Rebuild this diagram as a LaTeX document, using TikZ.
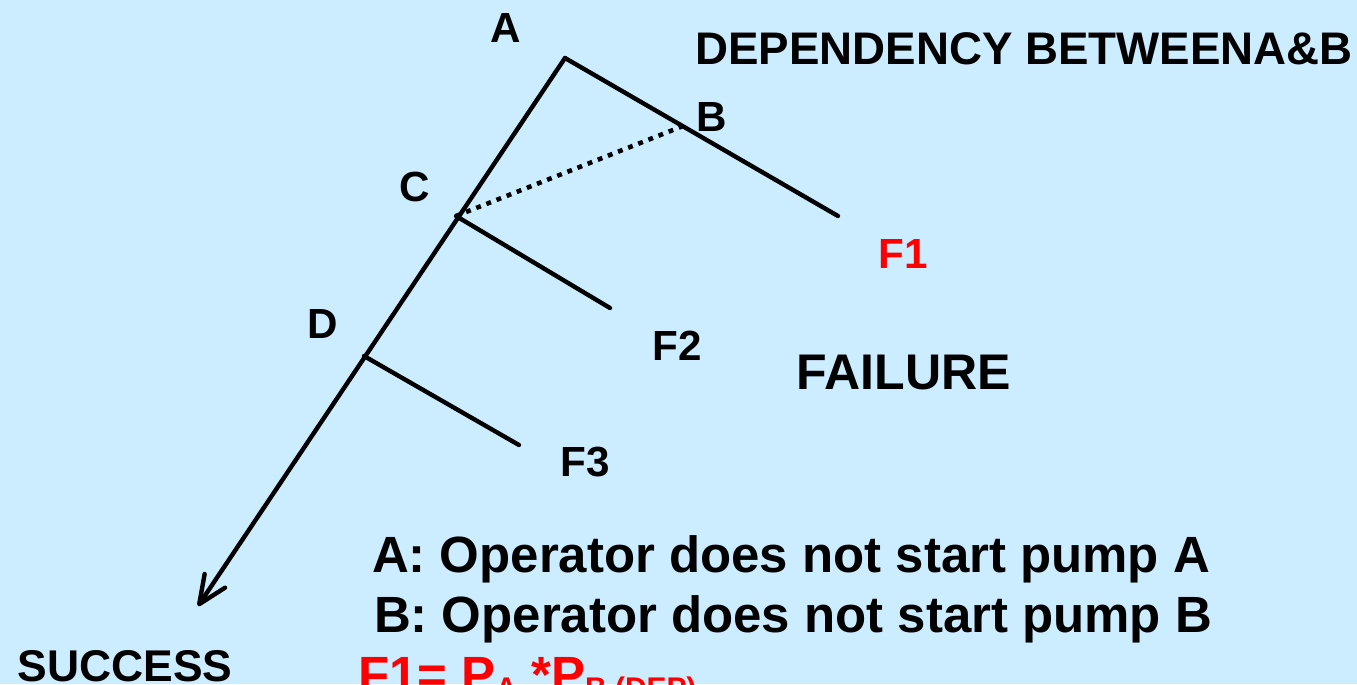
\documentclass[tikz,border=0pt]{standalone}
\usepackage{fontspec}
\setmainfont{Liberation Sans}
\usepackage{tikz}
\usetikzlibrary{arrows.meta}
\definecolor{bgblue}{RGB}{204,236,255}
\newcommand{\lowsub}[1]{\raisebox{-0.12em}{\fontsize{17}{18}\selectfont #1}}

\begin{document}
\begin{tikzpicture}[
  x=0.02cm, y=-0.02cm,
  lbl/.style={font=\fontsize{24}{28}\selectfont\bfseries, inner sep=0pt, anchor=base},
  big/.style={font=\fontsize{29}{32}\selectfont\bfseries, inner sep=0pt, anchor=base},
  branch/.style={line width=2.5pt, line cap=round},
  dep/.style={line width=2.6pt, dash pattern=on 2.8pt off 3.4pt},
]
% Background
\fill[bgblue] (0,0) rectangle (1357,684);
\useasboundingbox (0,0) rectangle (1357,684);
\clip (0,0) rectangle (1357,684);

% Tree points
\coordinate (a) at (565,58);
\coordinate (b) at (683,126);
\coordinate (c) at (456,216);
\coordinate (d) at (364,356);
\coordinate (f1) at (838,216);
\coordinate (f2) at (610,308);
\coordinate (f3) at (519,445);
\coordinate (succ) at (198,606);

% Branches
\draw[branch, -{Straight Barb[length=16pt, width=14pt, line cap=round, line join=round]}] (a) -- (succ);
\draw[branch] (a) -- (f1);
\draw[branch] (c) -- (f2);
\draw[branch] (d) -- (f3);
\draw[dep] (c) -- (b);

% Event labels
\node[lbl] (la) at (506,42) {A};
\node[lbl] (lb) at (712,131) {B};
\node[lbl] (lc) at (415,201) {C};
\node[lbl] (ld) at (323,338) {D};

% End states
\node[lbl, red] (lf1) at (903,268) {F1};
\node[lbl] (lf2) at (677,360) {F2};
\node[lbl] (lf3) at (585,476) {F3};
\node[big, font=\fontsize{28.5}{32}\selectfont\bfseries] (fail) at (904,389) {FAILURE};
\node[lbl, font=\fontsize{26}{28}\selectfont\bfseries] (depab) at (1024,64) {DEPENDENCY BETWEENA\&B};
\node[lbl, font=\fontsize{25.3}{28}\selectfont\bfseries] (success) at (125,681) {SUCCESS};

% Legend
\node[big] (evA) at (791,572) {A: Operator does not start pump A};
\node[big] (evB) at (793,632) {B: Operator does not start pump B};
\node[big, red, anchor=base west] (form) at (358,692) {F1= P\lowsub{A} *P\lowsub{B (DEP)}};
\end{tikzpicture}
\end{document}
